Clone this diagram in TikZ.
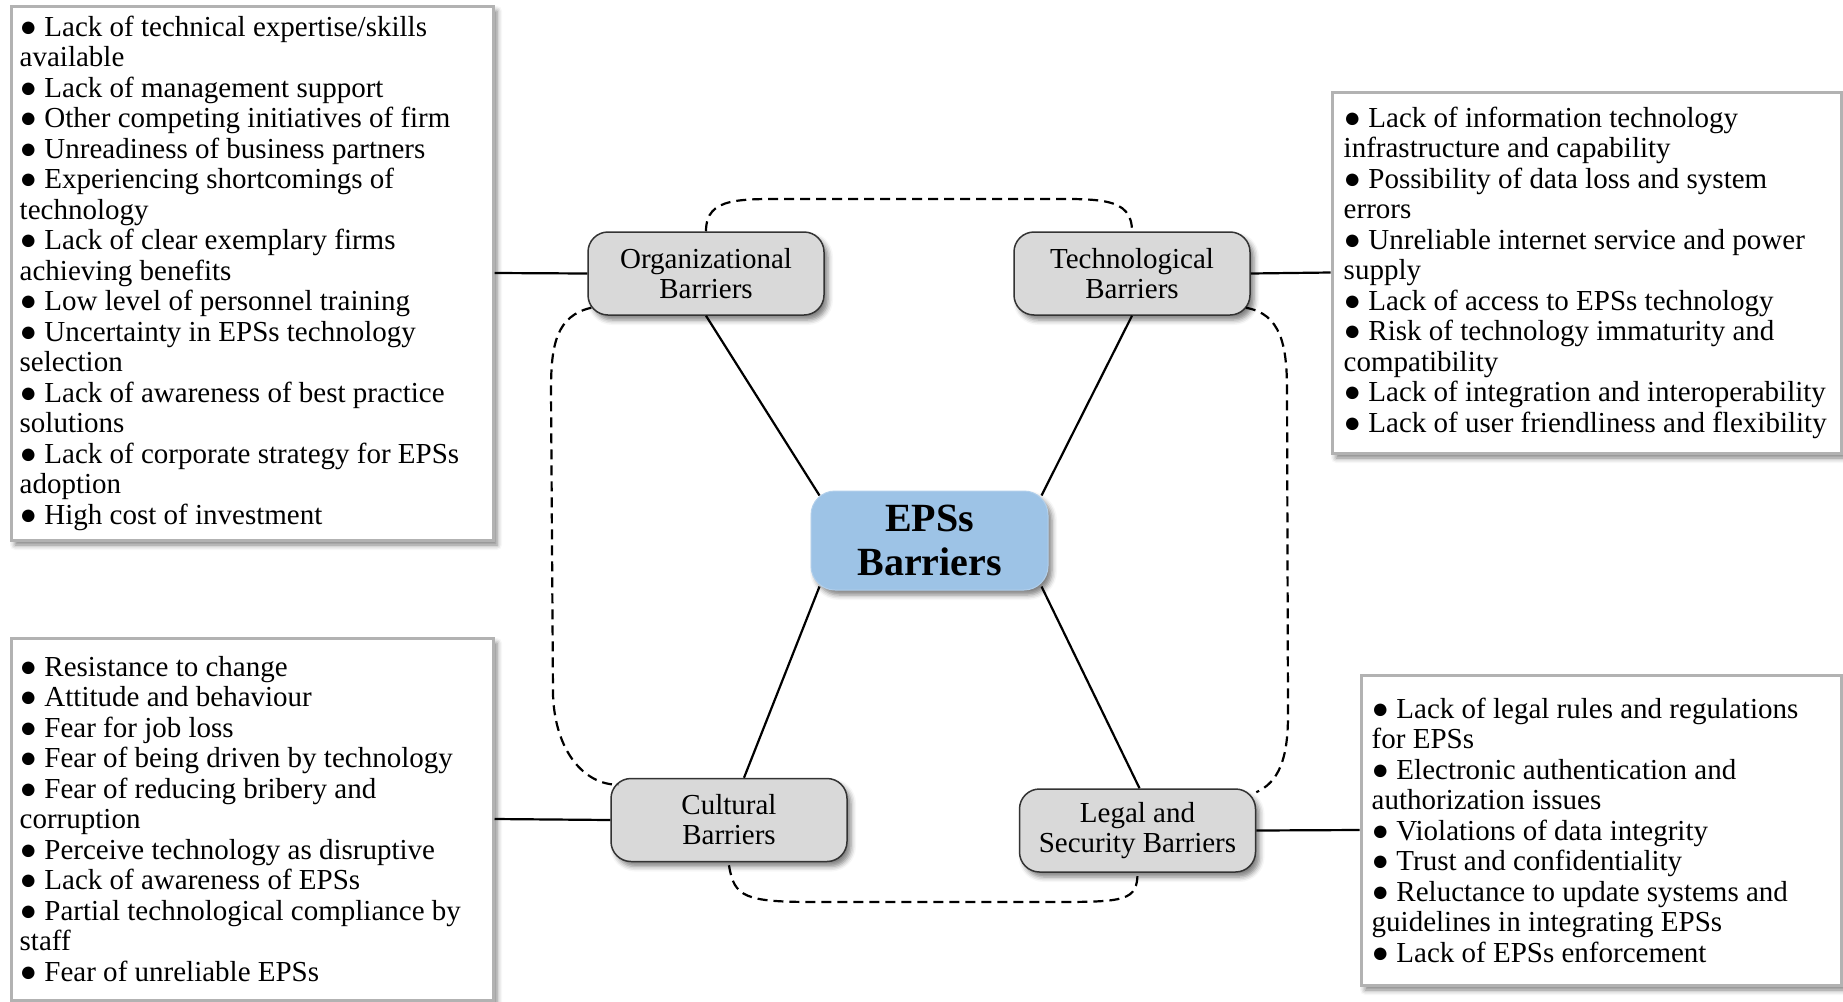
\documentclass[tikz,border=0pt]{standalone}
\usepackage{fontspec}
\setmainfont{Liberation Serif}
\usetikzlibrary{shadows.blur,calc}

\newcommand{\itm}{●\ }
\definecolor{coreblue}{HTML}{9DC3E6}
\definecolor{nodegray}{HTML}{D9D9D9}

\tikzset{
  softshadow/.style={blur shadow={shadow xshift=4pt, shadow yshift=-5pt,
      shadow blur radius=5pt, shadow opacity=50}},
  listbox/.style={draw=gray!60, line width=3pt, fill=white, inner sep=0pt, softshadow},
  listtext/.style={anchor=west, align=left, inner sep=0pt,
      font=\fontsize{29}{30.5}\selectfont},
  barrier/.style={draw=black!80, line width=1.5pt, fill=nodegray, rounded corners=20pt,
      minimum width=236pt, minimum height=83pt, align=center, inner sep=0pt,
      font=\fontsize{29}{30}\selectfont, softshadow},
  core/.style={fill=coreblue, draw=coreblue!80!white, line width=1pt, rounded corners=24pt,
      minimum width=237pt, minimum height=99pt, align=center, inner sep=0pt,
      font=\bfseries\fontsize{40}{44}\selectfont, softshadow},
  link/.style={line width=2.2pt},
  ring/.style={line width=2.2pt, dash pattern=on 10pt off 6pt}
}

\begin{document}
\begin{tikzpicture}[x=1pt,y=-1pt]
\useasboundingbox (0,0) rectangle (1843,1001);

% central node and the four barrier groups
\node[core] (eps) at (929.5,540.5) {EPSs\\Barriers};
\node[barrier] (org) at (706,273.5) {Organizational\\Barriers};
\node[barrier] (tech) at (1132,273.5) {Technological\\Barriers};
\node[barrier] (cul) at (729,820) {Cultural\\Barriers};
\node[barrier] (leg) at (1137.5,830.5) {Legal and\\Security Barriers};

% detail boxes
\node[listbox, minimum width=482pt, minimum height=534pt] (orgL) at (252,273) {};
\node[listbox, minimum width=509pt, minimum height=361pt] (techL) at (1586.5,272.5) {};
\node[listbox, minimum width=482pt, minimum height=362pt] (culL) at (252,819) {};
\node[listbox, minimum width=480pt, minimum height=310pt] (legL) at (1601,830) {};

\node[listtext] (orgT) at ($(orgL.west)+(10,0)$) {%
\itm Lack of technical expertise/skills\\
available\\
\itm Lack of management support\\
\itm Other competing initiatives of firm\\
\itm Unreadiness of business partners\\
\itm Experiencing shortcomings of\\
technology\\
\itm Lack of clear exemplary firms\\
achieving benefits\\
\itm Low level of personnel training\\
\itm Uncertainty in EPSs technology\\
selection\\
\itm Lack of awareness of best practice\\
solutions\\
\itm Lack of corporate strategy for EPSs\\
adoption\\
\itm High cost of investment};

\node[listtext] (techT) at ($(techL.west)+(13,0)$) {%
\itm Lack of information technology\\
infrastructure and capability\\
\itm Possibility of data loss and system\\
errors\\
\itm Unreliable internet service and power\\
supply\\
\itm Lack of access to EPSs technology\\
\itm Risk of technology immaturity and\\
compatibility\\
\itm Lack of integration and interoperability\\
\itm Lack of user friendliness and flexibility};

\node[listtext] (culT) at ($(culL.west)+(10,0)$) {%
\itm Resistance to change\\
\itm Attitude and behaviour\\
\itm Fear for job loss\\
\itm Fear of being driven by technology\\
\itm Fear of reducing bribery and\\
corruption\\
\itm Perceive technology as disruptive\\
\itm Lack of awareness of EPSs\\
\itm Partial technological compliance by\\
staff\\
\itm Fear of unreliable EPSs};

\node[listtext] (legT) at ($(legL.west)+(12,0)$) {%
\itm Lack of legal rules and regulations\\
for EPSs\\
\itm Electronic authentication and\\
authorization issues\\
\itm Violations of data integrity\\
\itm Trust and confidentiality\\
\itm Reluctance to update systems and\\
guidelines in integrating EPSs\\
\itm Lack of EPSs enforcement};

% spokes from the centre
\draw[link] (org.south) -- ($(eps.north west)+(9,5)$);
\draw[link] (tech.south) -- ($(eps.north east)+(-7,5)$);
\draw[link] ($(cul.north)+(15,0)$) -- ($(eps.south west)+(9,-4)$);
\draw[link] ($(leg.north)+(2,0)$) -- ($(eps.south east)+(-7,-4)$);

% links to detail boxes
\draw[link] (orgL.east) -- (org.west);
\draw[link] (tech.east) -- (techL.west);
\draw[link] (culL.east) -- (cul.west);
\draw[link] (leg.east) -- (legL.west);

% dashed ring joining neighbouring groups
\draw[ring] (org.north) .. controls +(0,-35) and +(-60,0) .. (800,199)
  -- (1038,199) .. controls +(60,0) and +(0,-35) .. (tech.north);
\draw[ring] ($(org.south west)+(4,-8)$) .. controls +(-35,8) and +(0,-45) .. (551,390)
  -- (553,695) .. controls +(2,55) and +(-35,0) .. ($(cul.north west)+(8,7)$);
\draw[ring] ($(tech.south east)+(-5,-8)$) .. controls +(35,6) and +(0,-45) .. (1287,390)
  -- (1288,715) .. controls +(0,45) and +(22,-10) .. ($(leg.north east)+(0,4)$);
\draw[ring] ($(cul.south)+(0,3)$) .. controls +(5,32) and +(-70,0) .. (815,902)
  -- (1055,902) .. controls +(70,0) and +(0,28) .. (leg.south);
\end{tikzpicture}
\end{document}
